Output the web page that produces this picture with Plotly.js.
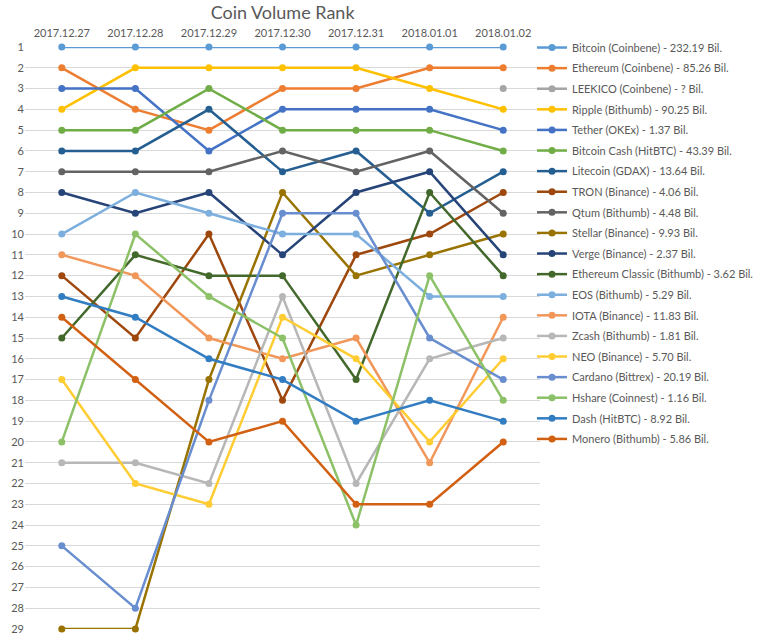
<!DOCTYPE html>
<html>
<head>
<meta charset="utf-8">
<script src="https://cdn.plot.ly/plotly-3.0.1.min.js"></script>
<style>html,body{margin:0;padding:0;background:#fff;}#chart{width:768px;height:642px;}</style>
</head>
<body>
<div id="chart"></div>
<script>
const dates = ["2017.12.27","2017.12.28","2017.12.29","2017.12.30","2017.12.31","2018.01.01","2018.01.02"];
const names = [
  "Bitcoin (Coinbene) - 232.19 Bil.",
  "Ethereum (Coinbene) - 85.26 Bil.",
  "LEEKICO (Coinbene) - ? Bil.",
  "Ripple (Bithumb) - 90.25 Bil.",
  "Tether (OKEx) - 1.37 Bil.",
  "Bitcoin Cash (HitBTC) - 43.39 Bil.",
  "Litecoin (GDAX) - 13.64 Bil.",
  "TRON (Binance) - 4.06 Bil.",
  "Qtum (Bithumb) - 4.48 Bil.",
  "Stellar (Binance) - 9.93 Bil.",
  "Verge (Binance) - 2.37 Bil.",
  "Ethereum Classic (Bithumb) - 3.62 Bil.",
  "EOS (Bithumb) - 5.29 Bil.",
  "IOTA (Binance) - 11.83 Bil.",
  "Zcash (Bithumb) - 1.81 Bil.",
  "NEO (Binance) - 5.70 Bil.",
  "Cardano (Bittrex) - 20.19 Bil.",
  "Hshare (Coinnest) - 1.16 Bil.",
  "Dash (HitBTC) - 8.92 Bil.",
  "Monero (Bithumb) - 5.86 Bil."
];
const bitcoin         = [1,1,1,1,1,1,1];
const ethereum        = [2,4,5,3,3,2,2];
const leekico         = [null,null,null,null,null,null,3];
const ripple          = [4,2,2,2,2,3,4];
const tether          = [3,3,6,4,4,4,5];
const bitcoinCash     = [5,5,3,5,5,5,6];
const litecoin        = [6,6,4,7,6,9,7];
const tron            = [12,15,10,18,11,10,8];
const qtum            = [7,7,7,6,7,6,9];
const stellar         = [29,29,17,8,12,11,10];
const verge           = [8,9,8,11,8,7,11];
const ethereumClassic = [15,11,12,12,17,8,12];
const eos             = [10,8,9,10,10,13,13];
const iota            = [11,12,15,16,15,21,14];
const zcash           = [21,21,22,13,22,16,15];
const neo             = [17,22,23,14,16,20,16];
const cardano         = [25,28,18,9,9,15,17];
const hshare          = [20,10,13,15,24,12,18];
const dash            = [13,14,16,17,19,18,19];
const monero          = [14,17,20,19,23,23,20];
const yTicks = Array.from({length:29},(_,i)=>i+1);

const series = [bitcoin,ethereum,leekico,ripple,tether,bitcoinCash,litecoin,tron,qtum,stellar,verge,ethereumClassic,eos,iota,zcash,neo,cardano,hshare,dash,monero];
const colors = ["#5B9BD5","#ED7D31","#A5A5A5","#FFC000","#4472C4","#70AD47","#255E91","#9E480E","#636363","#997300","#264478","#43682B","#7CAFDD","#F1975A","#B7B7B7","#FFCD33","#698ED0","#8CC168","#327DC2","#D26012"];

const traces = series.map((v,i)=>({
  type:"scatter", mode:"lines+markers", x:dates, y:v, name:names[i],
  legendgroup:"g"+i,
  line:{color:colors[i], width:2.5}, marker:{color:colors[i], size:7},
  cliponaxis:false
}));

const layout = {
  width:768, height:642,
  margin:{l:25, r:228, t:47, b:13, autoexpand:false},
  paper_bgcolor:"#fff", plot_bgcolor:"#fff",
  font:{family:"Lato, 'Open Sans', sans-serif", color:"#595959", size:11},
  title:{text:"Coin Volume Rank", x:0.368, xanchor:"center", y:0.98, yanchor:"middle", yref:"container", font:{size:18, color:"#595959"}},
  xaxis:{type:"category", side:"top", range:[-0.5,6.5], showgrid:false, zeroline:false, showline:false, ticks:"", ticklabelstandoff:7, tickfont:{size:11, color:"#595959"}},
  yaxis:{autorange:false, range:[29,1], tickvals:yTicks, ticktext:yTicks.map(String), showgrid:true, gridcolor:"#D9D9D9", gridwidth:1, zeroline:false, showline:false, ticks:"", tickfont:{size:11, color:"#595959"}},
  showlegend:true,
  legend:{x:0.9845, xanchor:"left", y:1.024, yanchor:"top", xref:"paper", yref:"paper", maxheight:600, font:{size:11, color:"#595959"}, tracegroupgap:1.6, itemwidth:30, bgcolor:"rgba(0,0,0,0)"}
};
Plotly.newPlot("chart", traces, layout, {displayModeBar:false});
</script>
</body>
</html>
